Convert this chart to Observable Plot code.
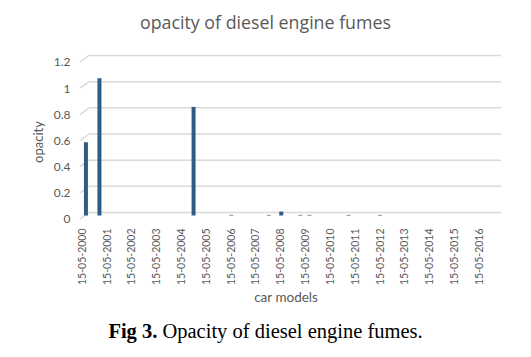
<!DOCTYPE html>
<html><head><meta charset="utf-8">
<script src="https://cdn.jsdelivr.net/npm/d3@7"></script>
<script src="https://cdn.jsdelivr.net/npm/@observablehq/plot@0.6"></script>
<style>
body{margin:0;background:#fff;width:531px;}
#title{height:40px;box-sizing:border-box;padding-top:12px;text-align:center;font:17.8px "Open Sans",sans-serif;color:#595959;line-height:20px;}
#chart svg{display:block}
#caption{text-align:center;font:20.5px "Liberation Serif",serif;color:#000;margin-top:9px;line-height:24px;}
</style></head><body>
<div id="title">opacity of diesel engine fumes</div>
<div id="chart"></div>
<div id="caption"><b>Fig 3.</b> Opacity of diesel engine fumes.</div>
<script>
const dates = ["2000-07-05","2001-01-20","2004-11-06","2006-05-15","2007-11-20","2008-05-20","2009-02-25","2009-07-10","2011-02-05","2012-05-15"];
const opacity = [0.56, 1.05, 0.83, 0.005, 0.005, 0.03, 0.005, 0.005, 0.005, 0.005];
const yTicks = [0, 0.2, 0.4, 0.6, 0.8, 1, 1.2];
const yTickLabels = ["0", "0.2", "0.4", "0.6", "0.8", "1", "1.2"];
const xTickLabels = ["15-05-2000","15-05-2001","15-05-2002","15-05-2003","15-05-2004","15-05-2005","15-05-2006","15-05-2007","15-05-2008","15-05-2009","15-05-2010","15-05-2011","15-05-2012","15-05-2013","15-05-2014","15-05-2015","15-05-2016"];
const xTitle = "car models";
const yTitle = "opacity";

const xTicks = xTickLabels.map(s => { const [d, m, y] = s.split("-"); return new Date(Date.UTC(+y, +m - 1, +d)); });
const data = dates.map((d, i) => ({date: new Date(d), value: opacity[i]}));
const grid = "#d9d9d9";

const chart = Plot.plot({
  width: 531,
  height: 270,
  marginLeft: 80,
  marginRight: 40,
  marginTop: 15,
  marginBottom: 98,
  style: {color: "#595959", fontFamily: "Lato, sans-serif", background: "#fff"},
  x: {type: "utc", domain: [new Date("2000-04-16"), new Date("2016-11-10")]},
  y: {domain: [0, 1.2]},
  marks: [
    Plot.ruleY(yTicks, {dx: 10, stroke: grid, strokeWidth: 1.5}),
    (index, scales, values, dimensions) => {
      const g = d3.create("svg:g").attr("stroke", grid).attr("stroke-width", 1.5);
      const x0 = dimensions.marginLeft;
      for (const t of yTicks) {
        const y = scales.y(t);
        g.append("line").attr("x1", x0).attr("y1", y + 7).attr("x2", x0 + 10).attr("y2", y);
      }
      return g.node();
    },
    Plot.ruleX(data, {x: "date", y1: 0, y2: "value", dy: 3.5, stroke: "#2f5b85", strokeWidth: 4}),
    Plot.axisY(yTicks, {tickSize: 0, tickPadding: 10, dy: 7, fontSize: 12, label: null,
      tickFormat: d => yTickLabels[yTicks.indexOf(d)]}),
    Plot.axisX(xTicks, {tickSize: 0, tickPadding: 16, tickRotate: -90, fontSize: 10.5, label: null,
      tickFormat: d => xTickLabels[xTicks.findIndex(t => +t === +d)]}),
    Plot.text([xTitle], {frameAnchor: "bottom", dy: 89, fontSize: 13.5, fill: "#595959"}),
    Plot.text([yTitle], {frameAnchor: "left", textAnchor: "middle", dx: -42, dy: 8, rotate: -90, fontSize: 13, fill: "#595959"})
  ]
});
document.getElementById("chart").appendChild(chart);
</script>
</body></html>
